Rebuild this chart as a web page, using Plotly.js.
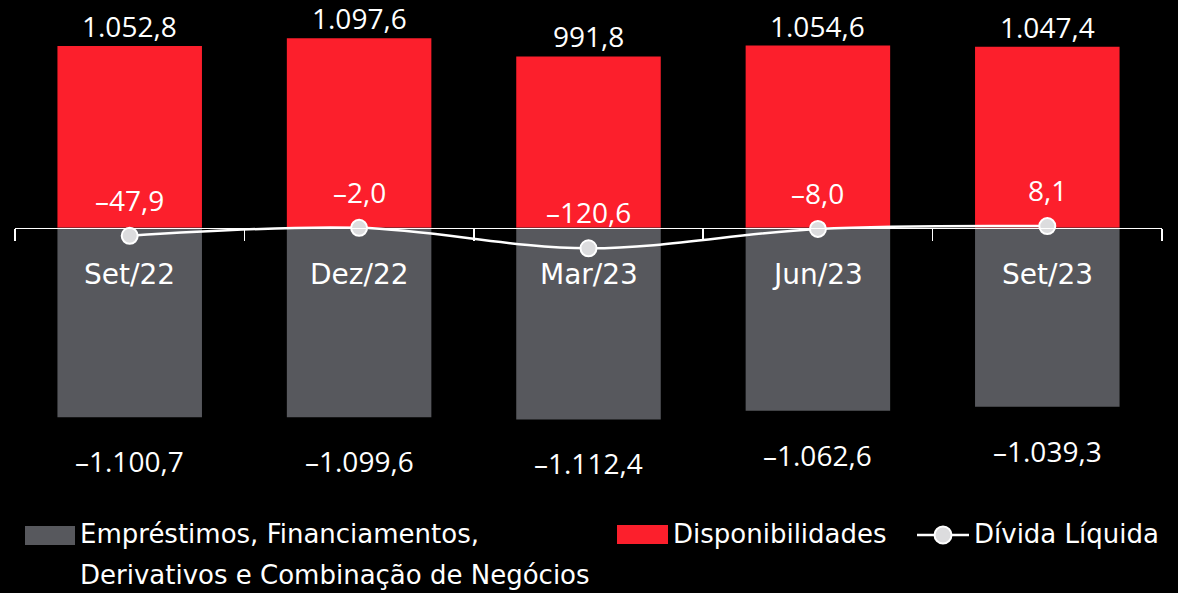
<!DOCTYPE html>
<html>
<head>
<meta charset="utf-8">
<script src="https://cdn.plot.ly/plotly-3.0.1.min.js"></script>
<style>
  html, body { margin: 0; padding: 0; background: #000; }
  #chart { width: 1178px; height: 593px; }
</style>
</head>
<body>
<div id="chart"></div>
<script>
// ---- data ----
const periods = ["Set/22", "Dez/22", "Mar/23", "Jun/23", "Set/23"];
const disponibilidades = [1052.8, 1097.6, 991.8, 1054.6, 1047.4];
const emprestimos = [-1100.7, -1099.6, -1112.4, -1062.6, -1039.3];
const dividaLiquida = [-47.9, -2.0, -120.6, -8.0, 8.1];

const legendNames = {
  emp1: "Empréstimos, Financiamentos,",
  emp2: "Derivativos e Combinação de Negócios",
  disp: "Disponibilidades",
  div: "Dívida Líquida"
};

// ---- style ----
const RED = "#fc1f2c";
const GRAY = "#57585d";
const WHITE = "#ffffff";
const MARKER = "#dcdcde";
const NUM_FONT = "Open Sans, Noto Sans, sans-serif";
const TXT_FONT = "DejaVu Sans, Verdana, sans-serif";

const W = 1178, H = 593, ML = 15, MR = 16, MT = 0, MB = 0;
const plotW = W - ML - MR, plotH = H - MT - MB;
const px = x => (x - ML) / plotW;
const py = y => (H - MB - y) / plotH;

const Y_MIN = -2119, Y_MAX = 1319;
const xs = periods.map((_, i) => i);
const boundaries = [-0.5].concat(xs.map(i => i + 0.5));

function fmt(v) {
  const neg = v < 0;
  const parts = Math.abs(v).toFixed(1).split(".");
  const intPart = parts[0].replace(/\B(?=(\d{3})+(?!\d))/g, ".");
  return (neg ? "\u2013" : "") + intPart + "," + parts[1];
}

const traces = [
  {
    type: "bar", x: xs, y: emprestimos, width: 0.63,
    marker: { color: GRAY, line: { width: 0 } },
    name: legendNames.emp1 + " " + legendNames.emp2,
    showlegend: false, hoverinfo: "skip"
  },
  {
    type: "bar", x: xs, y: disponibilidades, width: 0.63,
    marker: { color: RED, line: { width: 0 } },
    name: legendNames.disp, showlegend: false, hoverinfo: "skip"
  },
  {
    type: "scatter", mode: "lines+markers", x: xs, y: dividaLiquida,
    line: { color: WHITE, width: 2.5, shape: "spline", smoothing: 1 },
    marker: { size: 16, color: MARKER, line: { color: WHITE, width: 2 } },
    name: legendNames.div, showlegend: false, hoverinfo: "skip"
  }
];

const annotations = [];
const numFont = { family: NUM_FONT, size: 28, color: WHITE };
const catFont = { family: TXT_FONT, size: 28, color: WHITE };
xs.forEach(i => {
  annotations.push({ x: i, y: disponibilidades[i], xref: "x", yref: "y", text: fmt(disponibilidades[i]),
    showarrow: false, yanchor: "bottom", yshift: 0, borderpad: 0, font: numFont });
  annotations.push({ x: i, y: emprestimos[i], xref: "x", yref: "y", text: fmt(emprestimos[i]),
    showarrow: false, yanchor: "top", yshift: -24, borderpad: 0, font: numFont });
  annotations.push({ x: i, y: 0, xref: "x", yref: "y", text: periods[i],
    showarrow: false, yanchor: "middle", yshift: -47, borderpad: 0, font: catFont });
  annotations.push({ x: i, y: dividaLiquida[i], xref: "x", yref: "y", text: fmt(dividaLiquida[i]),
    showarrow: false, yanchor: "middle", yshift: 36, borderpad: 0, font: numFont });
});

// custom legend
const legFont = { family: TXT_FONT, size: 26, color: WHITE };
annotations.push({ xref: "paper", yref: "paper", x: px(79), y: py(534), xanchor: "left", yanchor: "middle",
  text: legendNames.emp1, showarrow: false, borderpad: 0, font: legFont });
annotations.push({ xref: "paper", yref: "paper", x: px(79), y: py(575), xanchor: "left", yanchor: "middle",
  text: legendNames.emp2, showarrow: false, borderpad: 0, font: legFont });
annotations.push({ xref: "paper", yref: "paper", x: px(672), y: py(534), xanchor: "left", yanchor: "middle",
  text: legendNames.disp, showarrow: false, borderpad: 0, font: legFont });
annotations.push({ xref: "paper", yref: "paper", x: px(973), y: py(534), xanchor: "left", yanchor: "middle",
  text: legendNames.div, showarrow: false, borderpad: 0, font: legFont });

const shapes = [
  { type: "rect", xref: "paper", yref: "paper", x0: px(25), x1: px(75), y0: py(545), y1: py(526),
    fillcolor: GRAY, line: { width: 0 } },
  { type: "rect", xref: "paper", yref: "paper", x0: px(617), x1: px(668), y0: py(544), y1: py(525),
    fillcolor: RED, line: { width: 0 } },
  { type: "line", xref: "paper", yref: "paper", x0: px(917), x1: px(969), y0: py(535), y1: py(535),
    line: { color: WHITE, width: 2.5 } },
  { type: "circle", xref: "paper", yref: "paper", x0: px(934.5), x1: px(951.5), y0: py(543.5), y1: py(526.5),
    fillcolor: MARKER, line: { color: WHITE, width: 2 } }
];

const layout = {
  width: W, height: H,
  margin: { l: ML, r: MR, t: MT, b: MB, pad: 0 },
  paper_bgcolor: "#000", plot_bgcolor: "#000",
  barmode: "relative",
  showlegend: false,
  font: { family: NUM_FONT, color: WHITE },
  xaxis: {
    type: "linear", range: [-0.5, 4.5], fixedrange: true,
    anchor: "free", position: (0 - Y_MIN) / (Y_MAX - Y_MIN),
    showline: true, linecolor: WHITE, linewidth: 1.5,
    tickmode: "array", tickvals: boundaries, ticks: "outside", ticklen: 12,
    tickwidth: 1.5, tickcolor: WHITE, showticklabels: false,
    showgrid: false, zeroline: false
  },
  yaxis: { range: [Y_MIN, Y_MAX], visible: false, fixedrange: true, showgrid: false, zeroline: false },
  annotations: annotations,
  shapes: shapes
};

Plotly.newPlot("chart", traces, layout, { displayModeBar: false, staticPlot: true });
</script>
</body>
</html>
